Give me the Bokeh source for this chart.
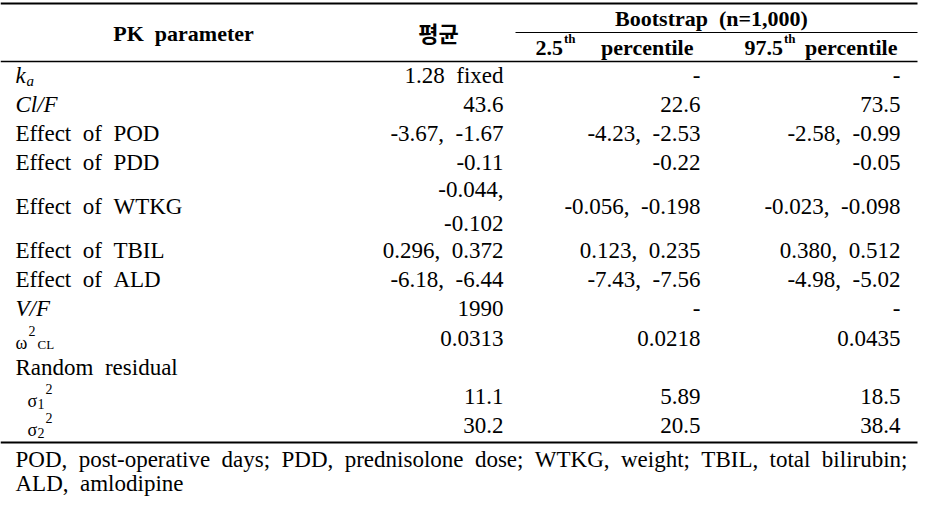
from bokeh.plotting import figure
from bokeh.models import Range1d, ColumnDataSource
from bokeh.core.properties import value
from bokeh.embed import file_html
from bokeh.resources import INLINE

# ---------------- data ----------------
params = ["k_a", "Cl/F", "Effect of POD", "Effect of PDD", "Effect of WTKG",
          "Effect of TBIL", "Effect of ALD", "V/F", "omega2_CL", "Random residual",
          "sigma_1^2", "sigma_2^2"]
mean_vals = ["1.28 fixed", "43.6", "-3.67, -1.67", "-0.11", "-0.044,\n-0.102",
             "0.296, 0.372", "-6.18, -6.44", "1990", "0.0313", "", "11.1", "30.2"]
p025_vals = ["-", "22.6", "-4.23, -2.53", "-0.22", "-0.056, -0.198",
             "0.123, 0.235", "-7.43, -7.56", "-", "0.0218", "", "5.89", "20.5"]
p975_vals = ["-", "73.5", "-2.58, -0.99", "-0.05", "-0.023, -0.098",
             "0.380, 0.512", "-4.98, -5.02", "-", "0.0435", "", "18.5", "38.4"]

header_param = "PK parameter"
header_mean = "평균"
header_boot = "Bootstrap (n=1,000)"
pct_labels = [("2.5", "th", "percentile"), ("97.5", "th", "percentile")]
footnote_lines = [
    "POD, post-operative days; PDD, prednisolone dose; WTKG, weight; TBIL, total bilirubin;",
    "ALD, amlodipine",
]

# ---------------- layout ----------------
SERIF = value("Liberation Serif")
KFONT = value("Noto Sans CJK KR")
FSN = 23.0
FS = "23px"
HFSN = 22.0
HFS = "22px"
row_y = [75, 104, 133, 162, 206, 250, 279, 308, 338, 367, 396, 425]
col_right = [503, 700, 900]
label_x = 15
foot_y = [459, 483]
foot_left, foot_right = 15, 907

# approximate Times/Liberation Serif advance widths (per em) for justification
CW = {"P": .556, "O": .722, "D": .722, ",": .25, "p": .5, "o": .5, "s": .389, "t": .278,
      "-": .333, "e": .444, "r": .333, "a": .444, "i": .278, "v": .5, "d": .5, "y": .5,
      ";": .278, "W": .944, "T": .611, "K": .722, "G": .722, "w": .722, "g": .5, "h": .5,
      "B": .667, "I": .333, "L": .611, "l": .278, "b": .5, "u": .5, "n": .5, "A": .722,
      "m": .778, "c": .444}


def wwidth(w, size):
    return sum(CW.get(ch, .5) for ch in w) * size


def sp(s):
    return s.replace(" ", " \u00a0")


p = figure(width=919, height=508, x_range=Range1d(0, 919), y_range=Range1d(508, 0),
           output_backend="svg", toolbar_location=None, min_border=0,
           x_axis_location=None, y_axis_location=None)
p.xgrid.visible = False
p.ygrid.visible = False
p.outline_line_color = None
p.background_fill_color = "white"
p.border_fill_color = "white"


def txt(xs, ys, texts, size=FS, align="left", font=SERIF, style="normal", baseline="middle"):
    src = ColumnDataSource(dict(x=list(xs), y=list(ys), t=list(texts)))
    p.text(x="x", y="y", text="t", source=src, text_font=font, text_font_size=size,
           text_align=align, text_baseline=baseline, text_font_style=style,
           text_color="black")


# rules
p.segment(x0=[0], y0=[3], x1=[917], y1=[3], line_color="black", line_width=2)
p.segment(x0=[515], y0=[32], x1=[917], y1=[32], line_color="black", line_width=1)
p.segment(x0=[0], y0=[61], x1=[917], y1=[61], line_color="black", line_width=1.5)
p.segment(x0=[0], y0=[442], x1=[917], y1=[442], line_color="black", line_width=2)

# headers
txt([183], [33], [sp(header_param)], size=HFS, align="center", style="bold")
txt([438], [31], [header_mean], size="22px", align="center", font=KFONT, style="bold")
txt([711], [18], [sp(header_boot)], size=HFS, align="center", style="bold")
for (num, sup, word), x0, xr in zip(pct_labels, [535, 744], [693, 897]):
    txt([x0], [47], [num], size=HFS, style="bold")
    numw = sum(0.25 if ch == "." else 0.5 for ch in num) * HFSN
    txt([x0 + numw + 1], [38], [sup], size="13px", style="bold")
    txt([xr], [47], [word], size=HFS, align="right", style="bold")

# row labels
for name, y in zip(params, row_y):
    if name == "k_a":
        txt([label_x], [y], ["k"], style="italic")
        txt([label_x + 11], [y + 5], ["a"], size="15px", style="italic")
    elif name in ("Cl/F", "V/F"):
        txt([label_x], [y], [name], style="italic")
    elif name == "omega2_CL":
        txt([label_x], [y + 4], ["ω"], size="18px")
        txt([label_x + 13], [y - 8], ["2"], size="14px")
        txt([label_x + 22], [y + 6], ["CL"], size="13px")
    elif name.startswith("sigma"):
        idx = name.split("_")[1].split("^")[0]
        txt([label_x + 12], [y + 4], ["σ"], size="18px")
        txt([label_x + 22], [y + 7], [idx], size="14px")
        txt([label_x + 30], [y - 8], ["2"], size="14px")
    else:
        txt([label_x], [y], [sp(name)])

# values
for vals, xr in zip([mean_vals, p025_vals, p975_vals], col_right):
    for v, y in zip(vals, row_y):
        if not v:
            continue
        lines = v.split("\n")
        n = len(lines)
        for i, line in enumerate(lines):
            yy = y + (i - (n - 1) / 2) * 34
            txt([xr], [yy], [sp(line)], align="right")

# footnote: first line justified, last line left-aligned with wide spacing
for li, (line, y) in enumerate(zip(footnote_lines, foot_y)):
    words = line.split(" ")
    widths = [wwidth(w, FSN) for w in words]
    if li < len(footnote_lines) - 1 and len(words) > 1:
        gap = (foot_right - foot_left - sum(widths)) / (len(words) - 1)
    else:
        gap = 0.5 * FSN
    xs, x = [], foot_left
    for w in widths:
        xs.append(x)
        x += w + gap
    txt(xs, [y] * len(words), words)

open("out.html", "w").write(file_html(p, INLINE))
